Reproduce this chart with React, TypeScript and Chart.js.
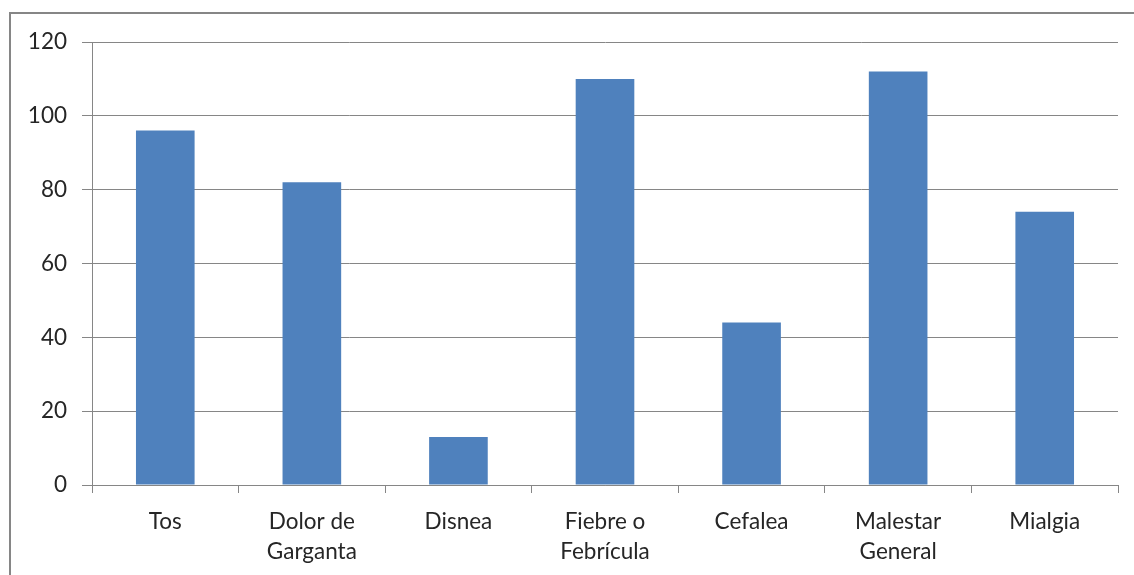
import React, { useEffect, useRef } from "react";
import { Chart, registerables } from "chart.js";

Chart.register(...registerables);

const categories: (string | string[])[] = [
  "Tos",
  ["Dolor de", "Garganta"],
  "Disnea",
  ["Fiebre o", "Febrícula"],
  "Cefalea",
  ["Malestar", "General"],
  "Mialgia",
];
const values: number[] = [96, 82, 13, 110, 44, 112, 74];
const yMin = 0;
const yMax = 120;
const yStep = 20;

const FONT = "Lato, 'Liberation Sans', sans-serif";
const GRID = "#868686";
const TEXT = "#262626";
const BAR = "#4F81BD";

const framePlugin = {
  id: "frame",
  beforeDraw(chart: any) {
    const ctx = chart.ctx;
    ctx.save();
    ctx.fillStyle = "#ffffff";
    ctx.fillRect(0, 0, chart.width, chart.height);
    ctx.strokeStyle = GRID;
    ctx.lineWidth = 2;
    ctx.strokeRect(10, 13, chart.width + 20, chart.height + 20);
    ctx.restore();
  },
};

export default function App() {
  const ref = useRef<HTMLCanvasElement | null>(null);
  useEffect(() => {
    if (!ref.current) return;
    const chart = new Chart(ref.current, {
      type: "bar",
      data: {
        labels: categories,
        datasets: [
          {
            data: values,
            backgroundColor: BAR,
            barPercentage: 0.4,
            categoryPercentage: 1,
          },
        ],
      },
      plugins: [framePlugin],
      options: {
        responsive: false,
        animation: false,
        layout: { padding: { top: 42, right: 16, left: 0, bottom: 0 } },
        plugins: { legend: { display: false }, tooltip: { enabled: false } },
        scales: {
          x: {
            grid: {
              display: true,
              offset: true,
              drawOnChartArea: false,
              drawTicks: true,
              tickLength: 8,
              color: GRID,
            },
            border: { display: true, color: GRID, width: 1 },
            ticks: {
              color: TEXT,
              font: { family: FONT, size: 22.5, lineHeight: 1.33 },
              padding: 14,
              maxRotation: 0,
              autoSkip: false,
            },
            afterFit(scale: any) {
              scale.height = 575 - 485;
            },
          },
          y: {
            min: yMin,
            max: yMax,
            ticks: {
              stepSize: yStep,
              color: TEXT,
              font: { family: FONT, size: 22.5 },
              padding: 15,
            },
            grid: { color: GRID, tickLength: 10, lineWidth: 1 },
            border: { display: true, color: GRID, width: 1 },
            afterFit(scale: any) {
              scale.width = 92;
            },
          },
        },
      },
    });
    return () => chart.destroy();
  }, []);
  return (
    <canvas
      ref={ref}
      width={1134}
      height={575}
      style={{ position: "fixed", left: 0, top: 0, display: "block" }}
    />
  );
}
